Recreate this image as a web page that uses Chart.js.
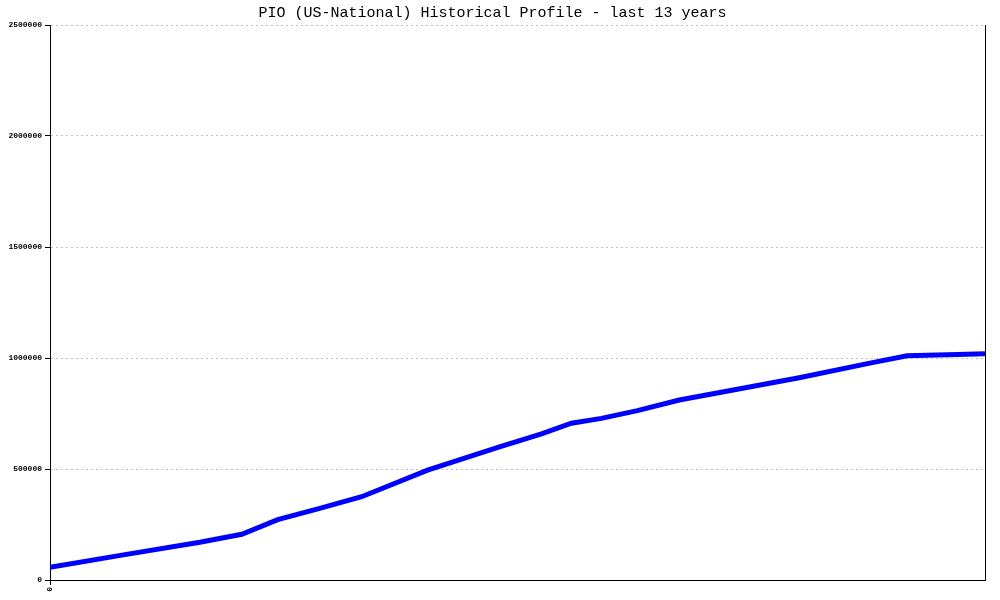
<!DOCTYPE html>
<html>
<head>
<meta charset="utf-8">
<script src="https://cdn.jsdelivr.net/npm/chart.js@4/dist/chart.umd.min.js"></script>
<style>
  html, body { margin: 0; padding: 0; background: #fff; }
  #wrap { width: 1000px; height: 600px; }
</style>
</head>
<body>
<div id="wrap"><canvas id="profileChart" width="1000" height="600"></canvas></div>
<script>
// === Data (x = months since start, y = routes) ===
const months = [0, 12, 25, 32, 38, 45, 52, 63, 75, 82, 87, 92, 98, 105, 114, 125, 137, 143, 148, 153, 156];
const values = [57000, 112000, 170000, 206000, 272000, 323000, 375000, 495000, 600000, 658000, 706000, 728000, 763000, 811000, 856000, 911000, 978000, 1010000, 1014000, 1017000, 1019000];
const yTicks = [0, 500000, 1000000, 1500000, 2000000, 2500000];
const xTickLabels = ['0'];

const points = months.map((m, i) => ({ x: m, y: values[i] }));
const monoFont = "'Liberation Mono', 'DejaVu Sans Mono', monospace";

new Chart(document.getElementById('profileChart'), {
  type: 'line',
  data: {
    datasets: [{
      data: points,
      borderColor: '#0000ff',
      borderWidth: 5,
      pointRadius: 0,
      tension: 0,
      fill: false
    }]
  },
  options: {
    responsive: false,
    animation: false,
    layout: { padding: { left: 0, right: 15, top: 0, bottom: 0 } },
    plugins: {
      legend: { display: false },
      tooltip: { enabled: false },
      title: {
        display: true,
        text: 'PIO (US-National) Historical Profile - last 13 years',
        color: '#000',
        font: { family: monoFont, size: 15, weight: 'normal' },
        padding: { top: 4, bottom: 3 }
      }
    },
    scales: {
      x: {
        type: 'linear',
        min: 0,
        max: 156,
        afterBuildTicks: s => { s.ticks = [{ value: 0 }]; },
        afterFit: s => { s.height = 20; },
        ticks: {
          callback: (v, i) => xTickLabels[i] || '',
          color: '#000',
          font: { family: monoFont, size: 8, weight: 'bold' },
          minRotation: 90,
          maxRotation: 90,
          padding: 2
        },
        grid: { drawOnChartArea: false, tickLength: 5, tickColor: '#000' },
        border: { color: '#000', width: 1 }
      },
      y: {
        min: 0,
        max: 2500000,
        afterBuildTicks: s => { s.ticks = yTicks.map(v => ({ value: v })); },
        afterFit: s => { s.width = 50; },
        ticks: {
          callback: v => String(v),
          color: '#000',
          font: { family: monoFont, size: 8, weight: 'bold' },
          padding: 3
        },
        grid: { color: '#c0c0c0', tickLength: 5, tickColor: '#000', tickBorderDash: [] },
        border: { color: '#000', width: 1, dash: [2, 3] }
      },
      y2: {
        position: 'right',
        min: 0,
        max: 2500000,
        afterFit: s => { s.width = 0; },
        ticks: { display: false },
        grid: { drawOnChartArea: false, drawTicks: false },
        border: { color: '#000', width: 1 }
      }
    }
  }
});
</script>
</body>
</html>
